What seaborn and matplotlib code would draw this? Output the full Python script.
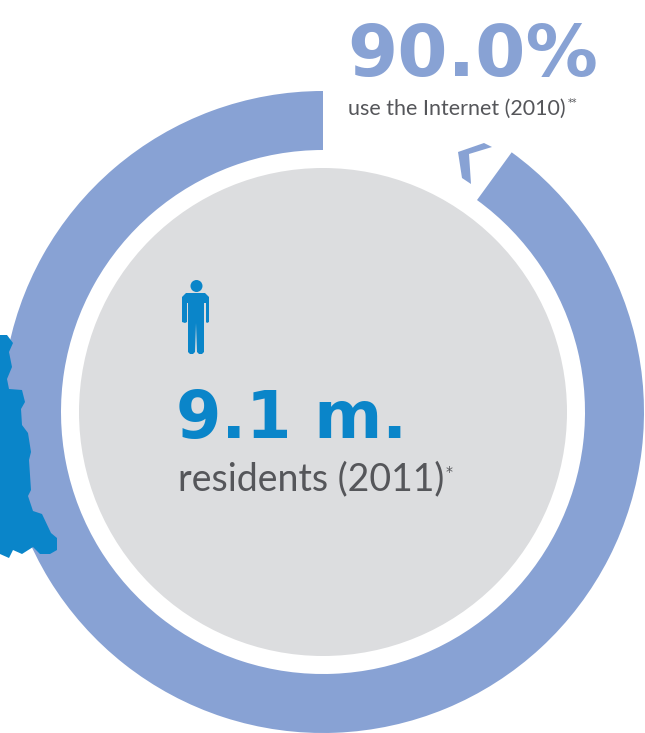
import matplotlib
matplotlib.use("Agg")
import matplotlib.pyplot as plt
from matplotlib.patches import Circle, Polygon
import seaborn as sns

# Values shown on the ring
ring_labels = ["offline", "use the Internet"]
ring_values = [10.0, 90.0]
headline_share = "90.0%"
share_caption = "use the Internet (2010)"
headline_people = "9.1 m."
people_caption = "residents (2011)"

RING_BLUE = "#88A2D4"
DISC_GREY = "#DCDDDF"
ICON_BLUE = "#0A85C9"
CAPTION = "#55565A"

W, H = 645, 733
CX, CY = 323, 412

# Outline of the country silhouette, in pixels from the top-left corner
map_x = [0, 7, 13, 9, 12, 7, 9, 22, 25, 21, 22, 28, 31, 29, 31, 28, 33, 42, 51, 57, 57, 50, 40, 33, 22, 13, 9, 0]
map_y = [335, 335, 343, 352, 367, 379, 389, 390, 402, 409, 425, 433, 452, 460, 490, 496, 511, 514, 533, 538, 550, 554, 554, 547, 554, 550, 558, 554]

# Small chevron beside the gap in the ring
chev_x = [458, 484, 492, 469, 471, 462]
chev_y = [152, 143, 147, 154, 184, 178]

# Person pictogram outline
person_x = [186, 205, 209, 209, 207, 206, 206, 204, 204, 202, 199, 197, 196, 195, 193, 190, 188, 188, 187, 187, 185, 182, 182]
person_y = [293, 293, 297, 322, 323, 322, 303, 303, 352, 354, 354, 352, 323, 352, 354, 354, 352, 303, 303, 322, 323, 322, 297]

sns.set_theme(style="white")
plt.rcParams["font.family"] = ["Lato", "DejaVu Sans"]

fig = plt.figure(figsize=(W / 100, H / 100), dpi=100, facecolor="white")
ax = fig.add_axes([0, 0, 1, 1])


def flip(y):
    return H - y


# Ring: clockwise from twelve o'clock, the gap first and then the share
ax.pie(
    ring_values,
    colors=["none", RING_BLUE],
    startangle=90,
    counterclock=False,
    radius=321,
    center=(CX, flip(CY)),
    wedgeprops=dict(width=59, linewidth=0),
    frame=False,
)
ax.set_xlim(0, W)
ax.set_ylim(0, H)
ax.set_aspect("equal")
ax.axis("off")

ax.add_patch(Circle((CX, flip(CY)), 244, fc=DISC_GREY, ec="none", zorder=2))
ax.add_patch(Polygon(list(zip(map_x, map(flip, map_y))), fc=ICON_BLUE, ec="none", zorder=3))
ax.add_patch(Polygon(list(zip(chev_x, map(flip, chev_y))), fc=RING_BLUE, ec="none", zorder=3))
ax.add_patch(Circle((196.5, flip(286)), 6, fc=ICON_BLUE, ec="none", zorder=3))
ax.add_patch(Polygon(list(zip(person_x, map(flip, person_y))), fc=ICON_BLUE, ec="none", zorder=3))

ax.text(347, flip(76), headline_share, fontsize=52, fontweight="bold", family="DejaVu Sans",
        color=RING_BLUE, ha="left", va="baseline", zorder=4)
ax.text(348, flip(115), share_caption, fontsize=15.5, color=CAPTION, ha="left", va="baseline", zorder=4)
ax.text(568, flip(106), "**", fontsize=7, family="DejaVu Sans", color=CAPTION, ha="left", va="baseline", zorder=4)

ax.text(176, flip(438), headline_people, fontsize=47, fontweight="bold", family="DejaVu Sans",
        color=ICON_BLUE, ha="left", va="baseline", zorder=4)
ax.text(178, flip(490), people_caption, fontsize=27, color=CAPTION, ha="left", va="baseline", zorder=4)
ax.text(446, flip(476), "*", fontsize=10, family="DejaVu Sans", color=CAPTION, ha="left", va="baseline", zorder=4)

fig.savefig("out.png", dpi=100, facecolor="white")
